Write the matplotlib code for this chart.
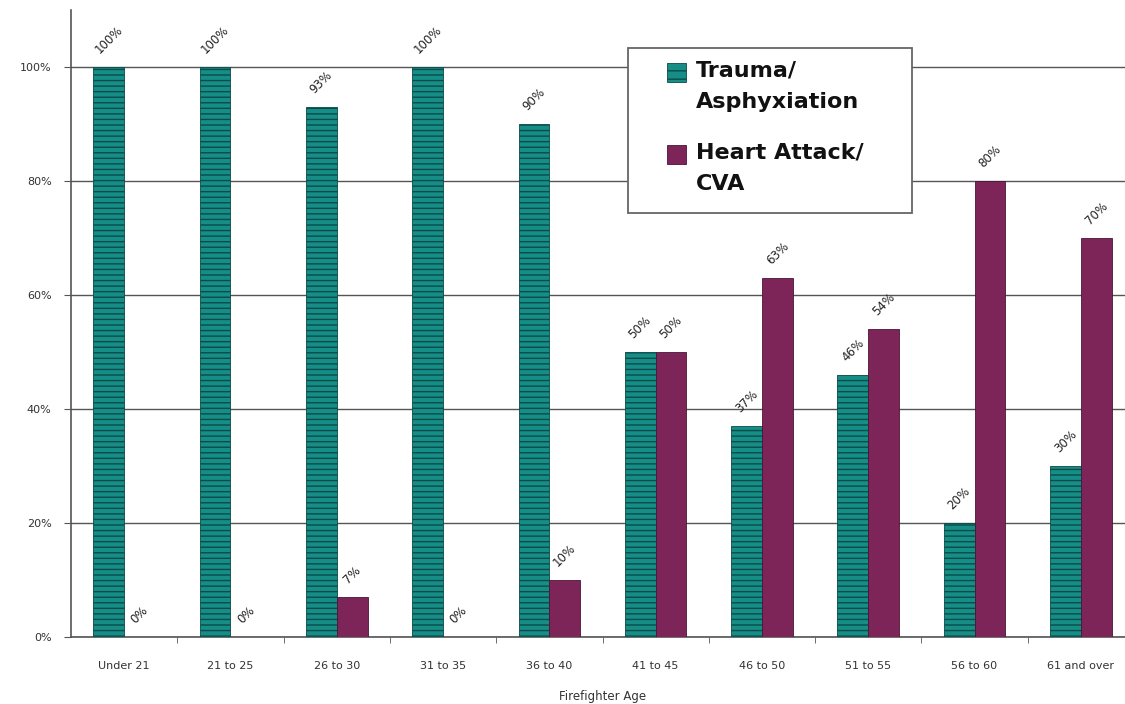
import matplotlib.pyplot as plt
from matplotlib.patches import Rectangle
import numpy as np

ages = ["Under 21", "21 to 25", "26 to 30", "31 to 35", "36 to 40",
        "41 to 45", "46 to 50", "51 to 55", "56 to 60", "61 and over"]
trauma = [100, 100, 93, 100, 90, 50, 37, 46, 20, 30]
heart = [0, 0, 7, 0, 10, 50, 63, 54, 80, 70]
trauma_labels = ["100%", "100%", "93%", "100%", "90%", "50%", "37%", "46%", "20%", "30%"]
heart_labels = ["0%", "0%", "7%", "0%", "10%", "50%", "63%", "54%", "80%", "70%"]

teal = "#168e88"
teal_dark = "#0b4a47"
maroon = "#7d2459"
grey = "#555555"

fig = plt.figure(figsize=(11.25, 7.04), dpi=100)
ax = fig.add_axes([71 / 1125, 1 - 637 / 704, 1063 / 1125, 627 / 704])

x = np.arange(len(ages))
w = 0.29
b1 = ax.bar(x - w / 2, trauma, w, color=teal, edgecolor=teal_dark,
            linewidth=0.6, hatch="---", zorder=3)
b2 = ax.bar(x + w / 2, heart, w, color=maroon, edgecolor="#4a1535",
            linewidth=0.6, zorder=3)

for bars, labs in [(b1, trauma_labels), (b2, heart_labels)]:
    for bar, lab in zip(bars, labs):
        ax.annotate(lab, (bar.get_x() + bar.get_width() / 2, bar.get_height()),
                    xytext=(0, 8), textcoords="offset points", ha="center",
                    va="bottom", rotation=45, fontsize=8.5, color="#222222")

ax.set_xlim(-0.5, len(ages) - 0.5)
ax.set_ylim(0, 110)
ax.set_yticks(np.arange(0, 101, 20))
ax.set_yticklabels([f"{v}%" for v in range(0, 101, 20)], fontsize=8, color="#333333")
ax.set_xticks(x)
ax.set_xticklabels(ages, fontsize=8, color="#333333")
ax.set_xticks(np.arange(0.5, len(ages) - 0.5, 1), minor=True)
ax.tick_params(axis="x", which="major", length=0, pad=17)
ax.tick_params(axis="x", which="minor", length=4, color=grey, direction="out")
ax.tick_params(axis="y", length=5, color=grey, pad=9)
ax.grid(axis="y", color=grey, linewidth=1, zorder=0)
ax.set_axisbelow(True)
for s in ["top", "right"]:
    ax.spines[s].set_visible(False)
for s in ["left", "bottom"]:
    ax.spines[s].set_color(grey)
    ax.spines[s].set_linewidth(1.2)
ax.set_xlabel("Firefighter Age", fontsize=8.5, color="#333333", labelpad=14)

# legend box drawn by hand so the swatch sits on the first line
fig.patches.append(Rectangle((628 / 1125, 1 - 213 / 704), 284 / 1125, 165 / 704,
                             transform=fig.transFigure, facecolor="white",
                             edgecolor="#666666", linewidth=1.3, zorder=5))
fig.patches.append(Rectangle((667 / 1125, 1 - 82 / 704), 19 / 1125, 19 / 704,
                             transform=fig.transFigure, facecolor=teal,
                             edgecolor=teal_dark, hatch="--", linewidth=0.6, zorder=6))
fig.patches.append(Rectangle((667 / 1125, 1 - 164 / 704), 19 / 1125, 19 / 704,
                             transform=fig.transFigure, facecolor=maroon,
                             edgecolor="#4a1535", linewidth=0.6, zorder=6))
fig.text(696 / 1125, 1 - 60 / 704, "Trauma/\nAsphyxiation", fontsize=16,
         fontweight="bold", va="top", linespacing=1.75, zorder=7,
         color="#111111")
fig.text(696 / 1125, 1 - 142 / 704, "Heart Attack/\nCVA", fontsize=16,
         fontweight="bold", va="top", linespacing=1.75, zorder=7,
         color="#111111")

fig.savefig("out.png", dpi=100)
